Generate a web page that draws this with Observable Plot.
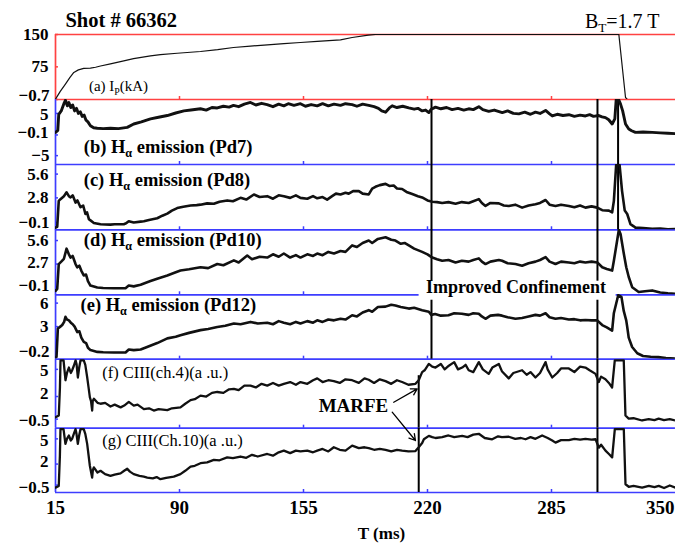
<!DOCTYPE html>
<html><head><meta charset="utf-8">
<script src="https://cdn.jsdelivr.net/npm/d3@7"></script>
<script src="https://cdn.jsdelivr.net/npm/@observablehq/plot@0.6"></script>
<style>
body{margin:0;background:#fff;}
#chart{position:relative;width:675px;height:544px;overflow:hidden;background:#fff;}
</style></head><body><div id="chart"></div>
<script>
// ---------- data ----------
const xTickValues = [25, 90, 155, 220, 285, 350];
const xTickLabels = ["15", "90", "155", "220", "285", "350"];
const xAxisTitle = "T (ms)";
const shotTitle = "Shot # 66362";
const fieldTitle = "B_{T}=1.7 T";

const panelLabels = [
  "(a) I_{P}(kA)",
  "(b) H_{α} emission (Pd7)",
  "(c) H_{α} emission (Pd8)",
  "(d) H_{α} emission (Pd10)",
  "(e) H_{α} emission (Pd12)",
  "(f) CIII(ch.4)(a .u.)",
  "(g) CIII(Ch.10)(a .u.)"
];

const yTicksA = [150, 75, -0.7],   yLabelsA = ["150", "75", "−0.7"];
const yTicksB = [5, -0.1, -5],     yLabelsB = ["5", "−0.1", "−5"];
const yTicksC = [5.6, 2.8, -0.1],  yLabelsC = ["5.6", "2.8", "−0.1"];
const yTicksD = [5.6, 2.7, -0.1],  yLabelsD = ["5.6", "2.7", "−0.1"];
const yTicksE = [6, 3, -0.2],      yLabelsE = ["6", "3", "−0.2"];
const yTicksF = [5, 2, -0.5],      yLabelsF = ["5", "2", "−0.5"];
const yTicksG = [5, 2, -0.5],      yLabelsG = ["5", "2", "−0.5"];

// event markers (ms)
const improvedStart = 222.1, marfeStart = 215.4, improvedEnd = 309.1, disruption = 319.9;
const annotationImproved = "Improved Confinement";
const annotationMarfe = "MARFE";

// plasma current (kA)
const ipKA = [[25,0],[27.5,18],[30.2,35],[32.5,50],[34.6,62],[37,68],[39.8,71.5],[43.3,72],[46,74],[48.6,77],[53.8,82],[60.8,89],[65.9,94],[74.8,100.5],[80,103.5],[88.8,106.5],[101,110.6],[110,115],[118.3,119.9],[127.2,123],[136.1,126],[144.7,128.8],[153.4,131.5],[162.2,134],[174.4,137.7],[180.5,143],[189,148.6],[192.7,150],[320.3,150],[323.8,4],[324.8,-0.7],[332.7,-0.7]];

const pd7 = [[25,0.5],[26.2,1.0],[26.7,4.8],[28,5.6],[29.4,7.3],[30.2,8.1],[31.2,6.8],[32,7.6],[33,6.4],[34,7.0],[35,5.6],[36,6.2],[37,5.0],[38,5.4],[39,4.3],[40,4.6],[41,3.4],[42,3.0],[43.3,2.1],[45,1.6],[46.9,1.5],[50,1.4],[53.8,1.5],[58,1.4],[62.6,1.7],[66,2.5],[70,3.0],[74.8,3.7],[79,4.1],[83.6,4.5],[88,5.1],[92.3,5.6],[96,5.8],[101,6.1],[104,5.8],[107,6.4],[109.8,6.3],[113,6.7],[116,6.5],[118.3,6.9],[121,6.6],[124,7.2],[127.2,7.6],[130,7.0],[133,7.4],[135.9,7.1],[139,6.6],[142,7.2],[144.7,6.8],[147,7.3],[150,6.9],[153.4,7.3],[156,6.7],[159,7.1],[162.2,6.8],[165,7.3],[168,6.8],[171,7.2],[174.4,6.9],[177,7.3],[180.5,7.1],[183,6.7],[186,7.2],[189.2,6.9],[192,6.6],[194.3,6.2],[196,5.6],[198,5.3],[200,6.3],[201.5,6.8],[204,6.4],[207,6.7],[210.2,6.3],[213,6.0],[215,6.2],[217.2,5.6],[219,5.8],[220.7,5.2],[222,6.0],[224.2,6.5],[227,6.1],[230,6.4],[232.9,5.9],[236,6.2],[239,5.8],[241.6,6.1],[244,5.9],[246.9,6.6],[249,5.9],[252.1,5.5],[255,5.8],[259.2,5.2],[262,5.6],[265,5.0],[267.9,4.9],[271,5.3],[274,4.8],[276.6,5.3],[279,5.0],[281.9,5.7],[284,4.9],[285.4,4.4],[288,4.8],[291,4.5],[294.1,4.7],[297,4.3],[300,4.6],[302.8,4.4],[305,4.7],[307,4.3],[309.8,4.5],[311.5,4.2],[313.3,4.0],[315,3.5],[316.8,2.5],[318.2,3.7],[318.9,8.2],[320.3,8.2],[321.2,7.2],[322.3,5.6],[323.8,2.5],[325.5,1.3],[327,0.9],[329,0.5],[333,0.6],[337.8,0.5],[342,0.4],[346,0.3],[350,0.2]];

const pd8 = [[25,-0.7],[25.9,-0.6],[26.7,2.45],[27.6,2.65],[29.4,3.0],[30.8,3.45],[32,3.0],[32.9,2.85],[34,3.1],[35.5,2.25],[36.5,2.5],[38.1,1.7],[39.5,1.9],[40.7,0.9],[41.5,1.1],[42.5,0.3],[45.1,-0.15],[48.6,-0.3],[53.8,-0.35],[56,-0.3],[60.8,-0.3],[62,-0.2],[63.4,0.05],[66,-0.1],[69.6,0.0],[71.3,0.05],[74,0.2],[78.3,0.4],[81,0.7],[83.6,0.95],[86,1.3],[88.8,1.6],[92,1.75],[95.8,1.9],[99,1.95],[101,2.0],[104.5,2.15],[108,2.1],[111,2.35],[115,2.5],[118,2.4],[122,2.8],[125,2.6],[129,3.2],[132,2.9],[136,3.0],[139,2.7],[142,3.1],[144.7,3.0],[148,2.8],[151,3.1],[153.4,2.8],[157,2.7],[160,3.0],[162.2,2.75],[165,2.9],[167.4,2.6],[170,3.0],[172,3.3],[174.4,3.2],[177,3.4],[178.7,3.3],[181,3.6],[184,3.6],[186,3.3],[189.2,3.2],[191,3.9],[192.7,4.1],[195,4.3],[198,4.45],[200,4.2],[202.3,4.25],[204,3.9],[206.7,3.85],[209,3.5],[212,3.25],[215,3.0],[217.2,2.85],[220,2.5],[222.5,2.35],[225,2.3],[227.7,2.2],[231,2.3],[234.7,2.1],[238,2.3],[241.6,2.2],[244,2.4],[246.9,2.65],[248.5,2.2],[250.4,1.85],[253,2.2],[257.4,2.15],[260,1.9],[262.6,1.85],[266,2.0],[269.6,1.65],[273,1.9],[276.6,2.05],[279,2.2],[281.9,2.55],[284,2.0],[287.1,1.85],[290,2.0],[294.1,1.85],[297,1.7],[300,1.9],[302.8,1.65],[306,1.8],[309,1.65],[311.6,1.35],[315.1,1.3],[316.8,1.1],[317.7,2.45],[318.9,6.65],[320.7,6.65],[322,3.6],[323.4,1.3],[324.7,0.9],[326.4,-0.3],[328.1,-0.55],[329,-0.7],[333,-0.75],[337.8,-0.85],[342,-0.8],[346,-0.9],[350,-0.88]];

const pd10 = [[25,-0.6],[25.9,-0.35],[26.7,2.7],[28,3.0],[29.4,3.35],[30.8,4.6],[32,3.9],[32.9,3.5],[34,3.7],[35.5,2.7],[36.4,2.3],[37.5,2.5],[38.5,1.9],[39.8,1.3],[41,1.4],[42,0.6],[43.3,0.05],[46.9,-0.2],[50,-0.25],[55.6,-0.28],[61.7,-0.28],[63.4,0.05],[66,-0.05],[69.6,0.15],[74.8,0.6],[78.3,0.9],[83.6,1.3],[87,1.6],[90.5,1.9],[95,2.05],[101,2.3],[105,2.2],[109.8,2.7],[113,2.55],[118.5,3.15],[121,2.9],[125.5,3.75],[128,3.3],[132,3.6],[136,3.5],[139,3.9],[142,3.6],[144.7,4.0],[148,3.5],[151,3.8],[153.4,3.5],[157,3.9],[160,3.7],[162.2,4.0],[165,3.8],[168,4.2],[171,4.0],[174.4,4.3],[177,4.2],[180.5,5.0],[183,4.8],[186,5.3],[189.2,5.6],[191,5.3],[194,5.8],[198,6.0],[201,5.7],[203.2,5.6],[206,5.2],[208,5.3],[210.2,5.0],[213,4.6],[217.2,4.2],[220,3.9],[222.5,3.5],[225,3.3],[227.7,3.1],[231,3.2],[234.7,2.9],[238,3.1],[241.6,3.0],[244,3.2],[246.9,3.4],[248.5,3.0],[250.4,2.7],[253,3.0],[257.4,3.2],[259.1,3.1],[262,2.8],[266.1,2.7],[269.6,2.5],[273,2.8],[276.6,3.0],[279,3.2],[281.9,3.55],[284,3.0],[287.1,2.7],[290,3.0],[294.1,2.9],[297,2.8],[300,3.0],[302.8,2.9],[306,3.0],[309,2.9],[311.6,2.3],[314,2.1],[316.8,1.9],[317.7,3.1],[320.3,6.9],[321.2,6.4],[322.9,4.0],[324.2,2.3],[325.5,1.1],[327.3,-0.15],[330.7,-0.75],[334,-0.65],[337.8,-0.55],[342,-0.8],[346,-0.9],[350,-0.97]];

const pd12 = [[25,-0.9],[25.5,-0.87],[26.2,2.75],[27.5,3.0],[28.5,3.2],[29.5,3.6],[30.2,4.25],[31,3.9],[32,3.8],[33,3.5],[34,3.3],[35,3.0],[36.4,2.3],[37.5,2.4],[38.5,1.6],[39.8,1.05],[41,0.9],[42,0.3],[43.3,0.0],[46.9,-0.23],[50,-0.28],[55.6,-0.31],[61.7,-0.31],[63.4,0.08],[66,0.0],[69.6,0.08],[73,0.4],[78.3,0.9],[83.6,1.5],[88,1.7],[90.5,1.9],[95,2.2],[101,2.55],[105,2.7],[109.8,2.95],[114,3.1],[118.5,3.4],[122,3.3],[127.2,3.6],[131,3.4],[136,3.5],[139,3.3],[142,3.7],[144.7,3.5],[148,3.3],[151,3.6],[153.4,3.4],[157,3.7],[160,3.5],[162.2,3.8],[165,3.6],[168,3.9],[171,3.8],[174.4,4.0],[177,3.9],[180.5,4.45],[183,4.3],[186,4.8],[189.2,5.1],[191,4.9],[194,5.5],[198,5.55],[201,5.8],[203.2,5.7],[206,5.5],[210.2,5.3],[213,5.4],[217.2,5.1],[220.7,4.9],[222,4.5],[224,4.6],[227,4.4],[231,4.45],[234,4.7],[238,4.65],[241.6,4.5],[244,4.7],[246.9,4.65],[248.5,4.3],[250.4,4.0],[253,4.4],[257,4.5],[259.1,4.4],[262,4.2],[266.1,4.0],[269.6,4.1],[273,4.3],[276.6,4.5],[279,4.4],[281.9,4.7],[284,4.2],[287.1,4.0],[290,4.1],[294.1,3.9],[297,3.95],[300,3.8],[302.8,3.85],[306,3.8],[309,3.8],[311.6,3.2],[314,2.9],[316.8,2.5],[317.7,4.7],[320,7.0],[321.7,6.8],[322.9,5.0],[324.2,3.8],[324.7,3.0],[325.5,1.6],[327.3,0.4],[330,-0.4],[333,-0.75],[337,-0.85],[341,-0.9],[345,-1.0],[350,-1.07]];

const c3ch4 = [[25,-0.3],[26.7,-0.1],[27.3,3.0],[27.6,6.0],[29.2,6.0],[30.2,3.8],[31,4.6],[32,5.2],[33,4.6],[33.7,4.9],[34.6,5.4],[35.5,6.0],[36,5.6],[36.7,4.1],[37.4,5.2],[38.1,6.0],[39.8,6.0],[40.6,5.5],[41.6,4.1],[42.3,3.0],[43,1.9],[43.6,1.5],[44.2,0.45],[44.5,1.5],[45.1,1.75],[47,1.3],[48.6,1.2],[51,1.3],[53.8,0.9],[56,1.1],[59.1,0.8],[61,1.0],[63.4,1.4],[66,1.0],[68,1.1],[71.3,0.6],[74,0.7],[76.5,0.45],[79,0.6],[83.6,0.5],[86,0.7],[90.5,0.8],[93,1.2],[95.8,1.6],[98,1.7],[101,2.1],[104,2.0],[107,2.4],[109.8,2.5],[113,2.4],[116,2.8],[118.5,2.85],[121,2.7],[124,3.2],[127.2,3.2],[130,3.0],[133,3.4],[136,3.2],[139,3.5],[142,3.2],[144.7,3.4],[148,3.6],[151,3.3],[153.4,3.6],[157,3.4],[160,3.8],[162.2,4.0],[165,3.6],[168,3.8],[170.9,3.7],[174,3.5],[177,3.9],[180.5,3.8],[184,3.5],[187,4.0],[189.2,3.85],[192,3.5],[195,3.9],[198,3.7],[201,3.4],[204,3.8],[206.7,3.6],[210,3.3],[213.7,3.4],[215.4,3.8],[217.2,4.7],[218.5,4.9],[220.7,5.6],[222.5,5.3],[224.2,5.2],[227,5.6],[229,5.0],[231.2,5.4],[234,5.8],[236,5.0],[238.2,5.2],[240,5.5],[241.6,4.9],[244,4.7],[246.9,5.8],[249,5.0],[252.1,4.5],[254,5.2],[257.4,5.6],[259,4.8],[262.6,4.0],[265,4.6],[269.6,4.9],[272,4.4],[274,4.7],[276.6,4.1],[279,4.6],[281.9,5.8],[283,5.0],[285.4,4.1],[288,4.6],[290,5.1],[294.1,5.1],[297,4.7],[300,5.3],[302.8,5.2],[305,4.9],[308.1,4.5],[309.8,3.6],[311,4.2],[313.3,3.9],[315.1,3.5],[316.8,3.0],[318.2,6.0],[322.9,6.0],[323.8,-0.1],[325.5,-0.45],[328,-0.4],[332.5,-0.65],[336,-0.5],[339,-0.6],[341.2,-0.45],[344,-0.6],[347,-0.5],[350,-0.65]];

const c3ch10 = [[25,-0.8],[26.7,-0.6],[27.3,3.0],[27.6,6.15],[29.2,6.15],[30.2,4.4],[31,5.0],[32,5.4],[33,4.8],[33.7,5.0],[34.6,5.6],[35.5,6.15],[36,5.6],[36.7,4.4],[37.4,5.4],[38.1,6.15],[39.8,6.15],[40.6,5.6],[41.6,4.4],[43,1.8],[44.2,0.4],[44.6,1.3],[45.1,1.6],[47,1.0],[48.6,1.2],[51,0.8],[53.8,0.6],[56,0.75],[59.1,0.9],[61,1.2],[62.6,1.45],[64,1.1],[66,0.8],[69,0.6],[71.3,0.5],[73.1,0.4],[76,0.3],[78,0.45],[80,0.2],[83,0.35],[87,0.5],[90.5,0.8],[93,1.2],[95.8,1.7],[98,1.8],[101,2.1],[104.5,2.2],[108,2.5],[111,2.45],[115,2.8],[118,2.7],[122,2.9],[125,2.75],[128,3.1],[131,2.9],[136,3.2],[139,3.0],[142,3.4],[144.7,3.6],[148,3.3],[151,3.6],[153.4,3.5],[157,3.6],[160,3.4],[162.2,3.6],[165,3.8],[168,3.5],[170.9,4.0],[174,3.7],[177,3.6],[180.5,4.2],[184,3.9],[187,4.0],[189.2,3.9],[192,3.7],[195,3.8],[198,3.7],[201,3.5],[204,3.7],[206.7,3.6],[210,3.5],[213.7,3.55],[215.4,4.0],[217.2,4.5],[218.1,4.95],[220.7,5.35],[222.5,5.2],[224.2,5.1],[227.7,5.2],[231,5.4],[234,5.2],[238.2,5.35],[241,5.2],[244,5.5],[246.9,5.6],[250,5.1],[253.9,4.95],[257,5.3],[259,5.2],[262.6,5.25],[266,5.0],[269,5.1],[271.4,4.95],[274,5.2],[276.6,5.0],[280.1,5.4],[283,5.1],[285.4,4.8],[287.1,4.55],[290,4.85],[294.1,4.85],[297,5.0],[300,4.9],[302.8,5.0],[306,4.9],[308.1,4.95],[309.8,3.95],[311,4.3],[313.3,3.6],[315.1,3.2],[316.8,2.8],[318.2,6.15],[322.9,6.15],[323.8,-0.4],[325.5,-0.7],[328,-0.6],[332.5,-0.8],[336,-0.6],[339,-0.75],[341.2,-0.6],[344,-0.85],[347,-0.55],[350,-0.8]];

// ---------- layout / style ----------
const RED = "#ff4242", BLUE = "#3d3dff";
const W = 675, ML = 55;
const SERIF = "'Liberation Serif','Times New Roman',serif";
const innerXTicks = xTickValues.slice(1, -1);

const panels = [
  {series: ipKA, top: 33.7, h: 65,   domain: [-0.7, 150],  ticks: yTicksA, labels: yLabelsA, color: RED,  sw: 1.2, topLine: true, tickDy: [0, 0, -3.5],
   label: {t: 42.5, v: 19.5, size: 15, weight: "normal"}, events: []},
  {series: pd7,  top: 98.7, h: 65,   domain: [-7.1, 8.3],  ticks: yTicksB, labels: yLabelsB, color: BLUE, sw: 2.9, tickDy: [1.5, -2, 0],
   label: {t: 39.8, v: -4.26, size: 18.5, weight: "bold"}, events: [{t: improvedStart}, {t: improvedEnd}, {t: disruption}]},
  {series: pd8,  top: 163.7, h: 65.3, domain: [-0.96, 6.73], ticks: yTicksC, labels: yLabelsC, color: BLUE, sw: 2.6, tickDy: [0, 0, 0],
   label: {t: 39.8, v: 4.22, size: 18.5, weight: "bold"}, events: [{t: improvedStart}, {t: improvedEnd}, {t: disruption}]},
  {series: pd10, top: 229, h: 65.3,  domain: [-1.09, 6.96], ticks: yTicksD, labels: yLabelsD, color: BLUE, sw: 2.6, tickDy: [0, -1.5, -1],
   label: {t: 39.8, v: 4.9, size: 18.5, weight: "bold"}, events: [{t: improvedStart}, {t: improvedEnd}]},
  {series: pd12, top: 294.3, h: 64.7, domain: [-1.16, 7.1], ticks: yTicksE, labels: yLabelsE, color: BLUE, sw: 2.6, tickDy: [0.5, 0, 0],
   label: {t: 38.1, v: 5.0, size: 18.5, weight: "bold"}, events: [{t: improvedStart}, {t: improvedEnd}]},
  {series: c3ch4, top: 359, h: 68.7, domain: [-1.5, 6.09], ticks: yTicksF, labels: yLabelsF, color: BLUE, sw: 2.3, tickDy: [1.5, -3, 1.5],
   label: {t: 49.5, v: 4.07, size: 16.5, weight: "normal"}, events: [{t: marfeStart, y2: 4.3}, {t: improvedEnd}]},
  {series: c3ch10, top: 427.7, h: 64, domain: [-1.38, 6.23], ticks: yTicksG, labels: yLabelsG, color: BLUE, sw: 2.3, tickDy: [1.5, -3, 2],
   label: {t: 49.5, v: 4.09, size: 16.5, weight: "normal"}, events: [{t: marfeStart}, {t: improvedEnd}]}
];

function subscripts(svg) {
  const NS = "http://www.w3.org/2000/svg";
  svg.querySelectorAll("text").forEach(t => {
    const s = t.textContent;
    const m = s.match(/^(.*?)_\{(.*?)\}(.*)$/);
    if (!m) return;
    t.textContent = "";
    t.appendChild(document.createTextNode(m[1]));
    const sub = document.createElementNS(NS, "tspan");
    sub.setAttribute("dy", "4"); sub.setAttribute("font-size", "66%"); sub.textContent = m[2];
    t.appendChild(sub);
    const rest = document.createElementNS(NS, "tspan");
    rest.setAttribute("dy", "-4"); rest.textContent = m[3];
    t.appendChild(rest);
  });
}

const chart = document.getElementById("chart");
panels.forEach((p, i) => {
  const last = i === panels.length - 1;
  const mb = last ? 52.3 : 0;
  const [lo, hi] = p.domain;
  const marks = [];
  // frame lines
  marks.push(Plot.ruleY(p.topLine ? [hi, lo] : [lo], {stroke: p.color, strokeWidth: 1.7}));
  marks.push(Plot.ruleX([xTickValues[0]], {stroke: p.color, strokeWidth: 1.7}));
  // inner tick marks
  marks.push(Plot.tickY(p.ticks, {y: d => d, stroke: p.color, strokeWidth: 1.5, insetRight: W - ML - 3}));
  marks.push(Plot.tickX(innerXTicks, {x: d => d, stroke: p.color, strokeWidth: 1.5, insetTop: p.h - 3}));
  // event markers
  p.events.forEach(e => {
    const o = {stroke: "black", strokeWidth: 2};
    if (e.y2 !== undefined) { o.y1 = lo; o.y2 = e.y2; }
    marks.push(Plot.ruleX([e.t], o));
  });
  // signal
  marks.push(Plot.line(p.series, {x: d => d[0], y: d => d[1], stroke: "#111", strokeWidth: p.sw, clip: true}));
  // y axis: one axis mark per tick so each label can be nudged like the original
  const fmt = d => p.labels[p.ticks.indexOf(d)];
  p.ticks.forEach((tk, k) => {
    marks.push(Plot.axisY([tk], {tickSize: 0, tickPadding: k === p.ticks.length - 1 ? 6 : 7, fontSize: 17, fontWeight: "bold",
      dy: p.tickDy[k], tickFormat: fmt, label: null}));
  });
  // panel label
  marks.push(Plot.text([panelLabels[i]], {x: () => p.label.t, y: () => p.label.v, text: d => d,
    textAnchor: "start", lineAnchor: "bottom", fontSize: p.label.size, fontWeight: p.label.weight}));

  if (i === 0) {
    marks.push(Plot.text([shotTitle], {x: () => 30.2, frameAnchor: "top", dy: -7.7, text: d => d,
      textAnchor: "start", lineAnchor: "bottom", fontSize: 20.5, fontWeight: "bold"}));
    marks.push(Plot.text([fieldTitle], {x: () => 302.5, frameAnchor: "top", dy: -7, text: d => d,
      textAnchor: "start", lineAnchor: "bottom", fontSize: 20, fontWeight: "normal"}));
  }
  if (i === 4) {
    marks.push(Plot.rect([annotationImproved], {x1: () => 215.6, x2: () => 318.9, y1: () => 6.37, y2: () => 8.8, fill: "white"}));
    marks.push(Plot.text([annotationImproved], {x: () => 266.4, y: () => 7.3, text: d => d,
      textAnchor: "middle", lineAnchor: "bottom", fontSize: 18, fontWeight: "bold"}));
  }
  if (i === 5) {
    marks.push(Plot.text([annotationMarfe], {x: () => 181.2, y: () => 1.0, text: d => d,
      textAnchor: "middle", lineAnchor: "middle", fontSize: 19, fontWeight: "bold"}));
    marks.push(Plot.arrow([{a: 202.3, b: 1.37, c: 214.6, d: 2.85}, {a: 201.5, b: 0.27, c: 213.7, d: -2.86}],
      {x1: "a", y1: "b", x2: "c", y2: "d", stroke: "black", strokeWidth: 1.3, headLength: 8}));
  }
  if (last) {
    marks.push(Plot.axisX(xTickValues.slice(0, -1), {tickSize: 0, tickPadding: 8, fontSize: 19, fontWeight: "bold",
      tickFormat: d => xTickLabels[xTickValues.indexOf(d)], label: null}));
    marks.push(Plot.axisX(xTickValues.slice(-1), {tickSize: 0, tickPadding: 8, fontSize: 19, fontWeight: "bold",
      textAnchor: "end", dx: -1, tickFormat: d => xTickLabels[xTickValues.indexOf(d)], label: null}));
    marks.push(Plot.text([xAxisTitle], {x: () => 195.9, frameAnchor: "bottom", dy: 46.3, text: d => d,
      textAnchor: "middle", lineAnchor: "bottom", fontSize: 17, fontWeight: "bold"}));
  }

  const svg = Plot.plot({
    width: W, height: p.h + mb,
    marginLeft: ML, marginRight: 0, marginTop: 0, marginBottom: mb,
    x: last ? {domain: [xTickValues[0], xTickValues[xTickValues.length - 1]]}
            : {domain: [xTickValues[0], xTickValues[xTickValues.length - 1]], axis: null},
    y: {domain: p.domain},
    style: {background: "none", overflow: "visible", fontFamily: SERIF, color: "black"},
    marks
  });
  subscripts(svg);
  svg.style.position = "absolute";
  svg.style.left = "0px";
  svg.style.top = p.top + "px";
  svg.style.maxWidth = "none";
  chart.appendChild(svg);
});
</script>
</body></html>
